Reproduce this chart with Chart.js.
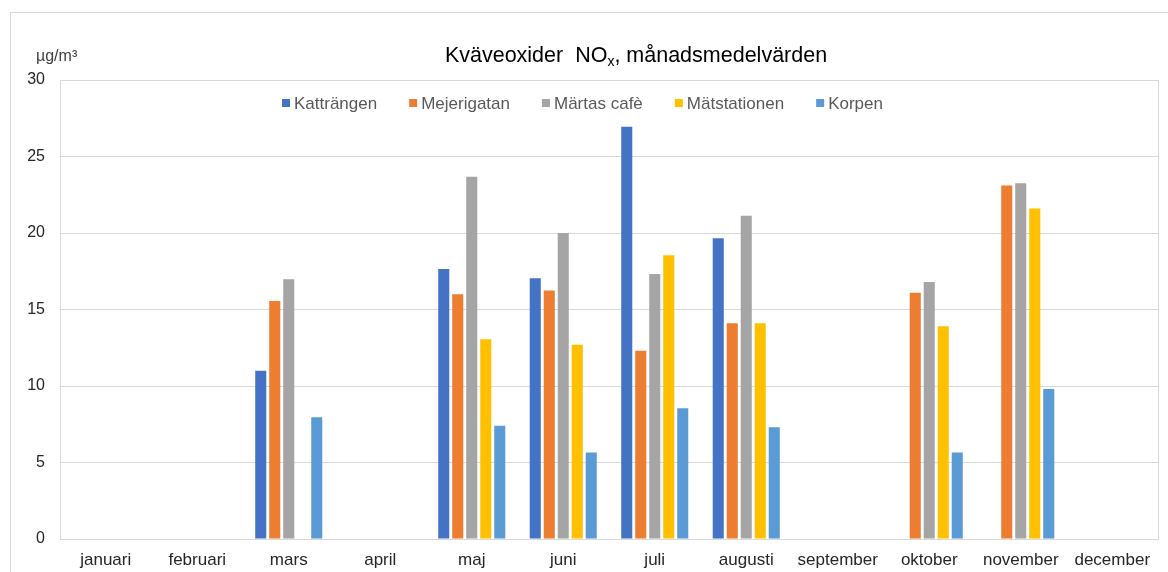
<!DOCTYPE html>
<html>
<head>
<meta charset="utf-8">
<script src="https://cdn.jsdelivr.net/npm/chart.js@4"></script>
<style>
  html, body { margin: 0; padding: 0; background: #ffffff; }
  #wrap { width: 1168px; height: 572px; }
</style>
</head>
<body>
<div id="wrap"><canvas id="nox-chart" width="1168" height="572"></canvas></div>
<script>
// month labels and monthly means (µg/m³), null = no measurement
const months = ["januari", "februari", "mars", "april", "maj", "juni", "juli", "augusti", "september", "oktober", "november", "december"];
const katterangen = [null, null, 11.0, null, 17.65, 17.05, 26.95, 19.65, null, null, null, null];
const mejerigatan = [null, null, 15.55, null, 16.0, 16.25, 12.3, 14.1, null, 16.1, 23.1, null];
const martasCafe = [null, null, 16.97, null, 23.67, 20.0, 17.32, 21.12, null, 16.8, 23.25, null];
const matstationen = [null, null, null, null, 13.05, 12.7, 18.55, 14.1, null, 13.9, 21.6, null];
const korpen = [null, null, 7.95, null, 7.4, 5.65, 8.55, 7.3, null, 5.65, 9.8, null];

const seriesNames = ["Katträngen", "Mejerigatan", "Märtas cafè", "Mätstationen", "Korpen"];
const seriesColors = ["#4472C4", "#ED7D31", "#A5A5A5", "#FFC000", "#5B9BD5"];
const seriesValues = [katterangen, mejerigatan, martasCafe, matstationen, korpen];

const yTicks = [0, 5, 10, 15, 20, 25, 30];

const fontName = "'Liberation Sans', Arial, sans-serif";

// draws the frame, title (with subscript x), unit label and the legend inside the plot
const decorPlugin = {
    id: "decor",
    beforeDraw(chart) {
        const ctx = chart.ctx;
        ctx.save();
        ctx.fillStyle = "#ffffff";
        ctx.fillRect(0, 0, chart.width, chart.height);
        ctx.strokeStyle = "#d9d9d9";
        ctx.lineWidth = 1;
        ctx.strokeRect(10.5, 12.5, 1300, 700); // outer chart frame, runs off the right/bottom
        ctx.restore();
    },
    afterDraw(chart) {
        const ctx = chart.ctx;
        const area = chart.chartArea;
        ctx.save();

        // plot area border (right side)
        ctx.strokeStyle = "#d9d9d9";
        ctx.lineWidth = 1;
        ctx.beginPath();
        ctx.moveTo(Math.round(area.right) + 0.5, area.top);
        ctx.lineTo(Math.round(area.right) + 0.5, area.bottom);
        ctx.stroke();

        // title
        const partA = "Kväveoxider  NO";
        const partSub = "x";
        const partB = ", månadsmedelvärden";
        ctx.fillStyle = "#000000";
        ctx.textBaseline = "alphabetic";
        ctx.font = "21.5px " + fontName;
        const wA = ctx.measureText(partA).width;
        const wB = ctx.measureText(partB).width;
        ctx.font = "14px " + fontName;
        const wS = ctx.measureText(partSub).width;
        let tx = 636 - (wA + wS + wB) / 2;
        const ty = 62;
        ctx.font = "21.5px " + fontName;
        ctx.textAlign = "left";
        ctx.fillText(partA, tx, ty);
        tx += wA;
        ctx.font = "14px " + fontName;
        ctx.fillText(partSub, tx, ty + 4);
        tx += wS;
        ctx.font = "21.5px " + fontName;
        ctx.fillText(partB, tx, ty);

        // unit
        ctx.font = "16px " + fontName;
        ctx.fillStyle = "#404040";
        ctx.fillText("µg/m³", 36, 61);

        // legend
        ctx.font = "17px " + fontName;
        ctx.textBaseline = "middle";
        let lx = 282;
        const ly = 103;
        chart.data.datasets.forEach(ds => {
            ctx.fillStyle = ds.backgroundColor;
            ctx.fillRect(lx, ly - 4, 8, 8);
            ctx.fillStyle = "#595959";
            ctx.fillText(ds.label, lx + 12, ly + 1);
            lx += 12 + ctx.measureText(ds.label).width + 32;
        });

        ctx.restore();
    }
};

const datasets = [];
for (let i = 0; i < seriesNames.length; i++) {
    datasets.push({
        label: seriesNames[i],
        data: seriesValues[i],
        backgroundColor: seriesColors[i],
        barPercentage: 0.79,
        categoryPercentage: 0.765
    });
}

const noxChart = new Chart(document.getElementById("nox-chart"), {
    type: "bar",
    data: {
        labels: months,
        datasets: datasets
    },
    options: {
        responsive: false,
        animation: false,
        devicePixelRatio: 1,
        layout: {
            padding: { left: 10, right: 10, top: 80, bottom: 0 }
        },
        plugins: {
            legend: { display: false },
            title: { display: false },
            tooltip: { enabled: false }
        },
        scales: {
            x: {
                grid: { display: false, drawTicks: false },
                border: { display: true, color: "#d9d9d9" },
                ticks: {
                    color: "#262626",
                    font: { family: fontName, size: 17 },
                    padding: 11,
                    maxRotation: 0,
                    autoSkip: false
                },
                afterFit(axis) { axis.height = 33; }
            },
            y: {
                min: 0,
                max: 30,
                afterBuildTicks(axis) {
                    axis.ticks = yTicks.map(v => ({ value: v }));
                },
                grid: { color: "#d9d9d9", drawTicks: false },
                border: { display: true, color: "#d9d9d9" },
                ticks: {
                    color: "#262626",
                    font: { family: fontName, size: 16 },
                    padding: 15
                },
                afterFit(axis) { axis.width = 50; }
            }
        }
    },
    plugins: [decorPlugin]
});
</script>
</body>
</html>
